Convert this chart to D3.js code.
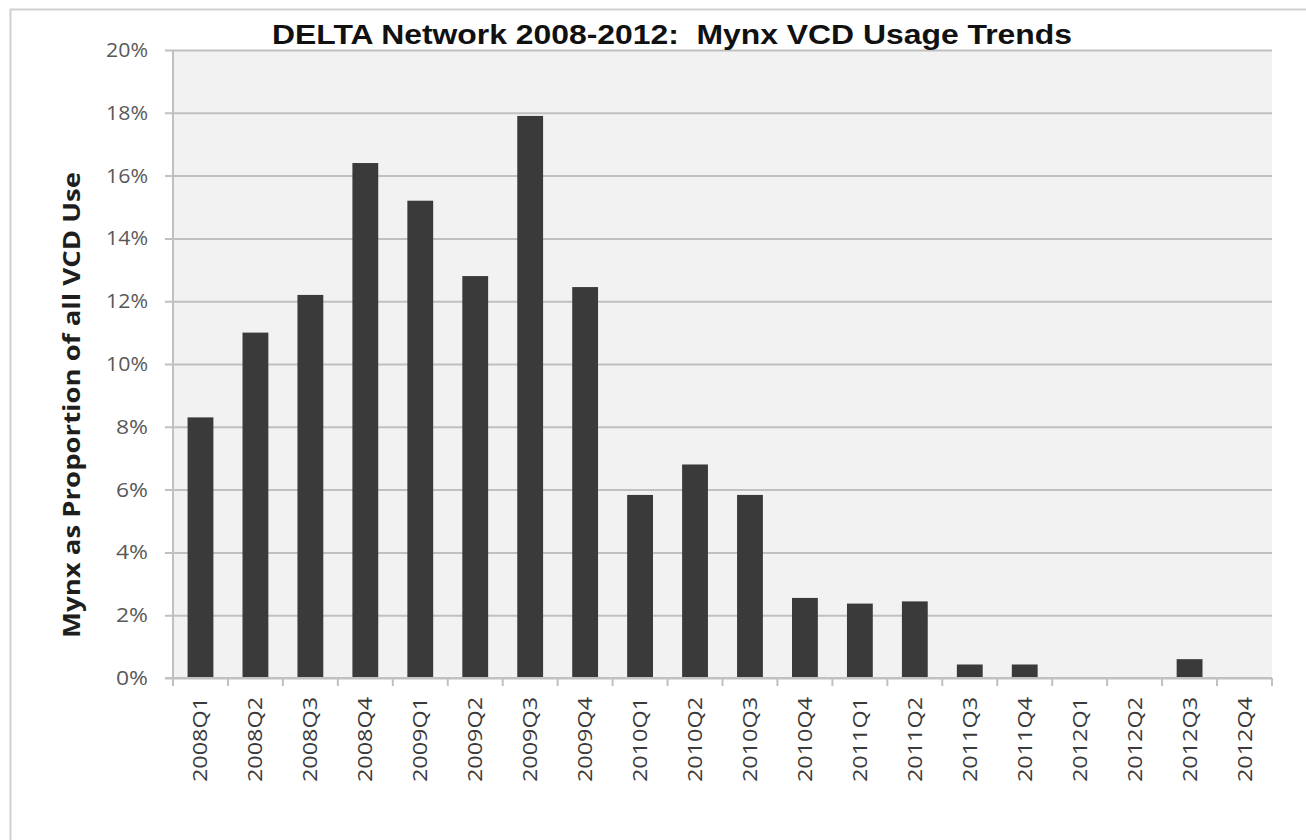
<!DOCTYPE html>
<html>
<head>
<meta charset="utf-8">
<script src="https://cdn.jsdelivr.net/npm/d3@7"></script>
<style>
	body { margin: 0; background: #fff; }
	svg { display: block; }
</style>
</head>
<body>
<div id="chart"></div>
<script>
const quarters = [
	"2008Q1", "2008Q2", "2008Q3", "2008Q4",
	"2009Q1", "2009Q2", "2009Q3", "2009Q4",
	"2010Q1", "2010Q2", "2010Q3", "2010Q4",
	"2011Q1", "2011Q2", "2011Q3", "2011Q4",
	"2012Q1", "2012Q2", "2012Q3", "2012Q4",
];
// Mynx share of all VCD use (%)
const mynxShare = [
	8.3, 11.0, 12.2, 16.4,
	15.2, 12.8, 17.9, 12.45,
	5.83, 6.8, 5.83, 2.55,
	2.37, 2.44, 0.43, 0.43,
	0, 0, 0.6, 0,
];
const yTicks = [0, 2, 4, 6, 8, 10, 12, 14, 16, 18, 20];

const titleText = "DELTA Network 2008-2012:  Mynx VCD Usage Trends";
const yAxisTitle = "Mynx as Proportion of all VCD Use";

render();

function render() {
	const width = 1306;
	const height = 840;
	const plot = { left: 173, right: 1272, top: 50, bottom: 678 };
	const colors = {
		frame: "#d0d0d0",
		plotBg: "#f2f2f2",
		grid: "#c0c0c0",
		bar: "#3a3a3a",
		tickText: "#595959",
		labelText: "#3a3a3a",
	};

	const svg = d3.select("#chart")
		.append("svg")
		.attr("width", width)
		.attr("height", height);

	// outer frame (left and top edges only)
	svg.append("path")
		.attr("d", `M10.5,${height} V9.5 H${width}`)
		.attr("fill", "none")
		.attr("stroke", colors.frame)
		.attr("stroke-width", 2);

	// scales
	const x = d3.scaleBand()
		.domain(d3.range(quarters.length).map(String))
		.range([plot.left, plot.right])
		.paddingInner(0.53)
		.paddingOuter(0.265);

	const xStep = (plot.right - plot.left) / quarters.length;
	const xCenter = (i) => plot.left + xStep * (i + 0.5);

	const y = d3.scaleLinear()
		.domain([0, 20])
		.range([plot.bottom, plot.top]);

	// plot background
	svg.append("rect")
		.attr("x", plot.left)
		.attr("y", plot.top)
		.attr("width", plot.right - plot.left)
		.attr("height", plot.bottom - plot.top)
		.attr("fill", colors.plotBg);

	// gridlines + y ticks
	const yAxis = d3.axisLeft(y)
		.tickValues(yTicks)
		.tickSize(-(plot.right - plot.left + 8))
		.tickFormat((d) => d + "%")
		.tickPadding(18);

	const gy = svg.append("g")
		.attr("transform", `translate(${plot.right}, 0)`);
	gy.call(yAxis);
	gy.select(".domain").remove();
	gy.selectAll(".tick line")
		.attr("stroke", colors.grid)
		.attr("stroke-width", 2)
		.attr("x1", 0)
		.attr("x2", -(plot.right - plot.left + 8));
	gy.selectAll(".tick text")
		.attr("x", -(plot.right - plot.left + 25))
		.attr("fill", colors.tickText)
		.style("font-family", "'Open Sans', sans-serif")
		.style("font-size", "20px")
		.attr("textLength", 42)
		.attr("lengthAdjust", "spacingAndGlyphs");
	gy.selectAll(".tick text")
		.filter((d) => d < 10)
		.attr("textLength", 32);

	// left axis line
	svg.append("line")
		.attr("x1", plot.left)
		.attr("x2", plot.left)
		.attr("y1", plot.top)
		.attr("y2", plot.bottom)
		.attr("stroke", colors.grid)
		.attr("stroke-width", 2);

	// bars
	svg.append("g")
		.selectAll("rect")
		.data(mynxShare)
		.enter()
		.append("rect")
		.attr("x", (d, i) => x(String(i)))
		.attr("y", (d) => y(d))
		.attr("width", x.bandwidth())
		.attr("height", (d) => y(0) - y(d))
		.attr("fill", colors.bar);

	// x axis tick marks at category boundaries
	svg.append("g")
		.selectAll("line")
		.data(d3.range(quarters.length + 1))
		.enter()
		.append("line")
		.attr("x1", (i) => plot.left + i * xStep)
		.attr("x2", (i) => plot.left + i * xStep)
		.attr("y1", plot.bottom)
		.attr("y2", plot.bottom + 8)
		.attr("stroke", colors.grid)
		.attr("stroke-width", 2);

	// baseline
	svg.append("line")
		.attr("x1", plot.left - 8)
		.attr("x2", plot.right)
		.attr("y1", plot.bottom)
		.attr("y2", plot.bottom)
		.attr("stroke", colors.grid)
		.attr("stroke-width", 2);

	// x labels, rotated
	svg.append("g")
		.selectAll("text")
		.data(quarters)
		.enter()
		.append("text")
		.text((d) => d)
		.attr("transform", (d, i) => `translate(${xCenter(i)}, 697) rotate(-90)`)
		.attr("text-anchor", "end")
		.attr("dy", "0.35em")
		.attr("fill", colors.labelText)
		.style("font-family", "'Open Sans', sans-serif")
		.style("font-size", "20px")
		.attr("textLength", 85)
		.attr("lengthAdjust", "spacingAndGlyphs");

	// y axis title
	svg.append("text")
		.text(yAxisTitle)
		.attr("transform", "translate(80, 405) rotate(-90)")
		.attr("text-anchor", "middle")
		.attr("fill", "#1e1e1e")
		.style("font-family", "'Open Sans', sans-serif")
		.style("font-weight", "bold")
		.style("font-size", "23px")
		.attr("textLength", 466)
		.attr("lengthAdjust", "spacingAndGlyphs");

	// chart title
	svg.append("text")
		.text(titleText)
		.attr("x", 672)
		.attr("y", 44)
		.attr("text-anchor", "middle")
		.attr("fill", "#111")
		.style("white-space", "pre")
		.style("font-family", "'Liberation Sans', Arial, sans-serif")
		.style("font-weight", "bold")
		.style("font-size", "28px")
		.attr("textLength", 800)
		.attr("lengthAdjust", "spacingAndGlyphs");
}
</script>
</body>
</html>
